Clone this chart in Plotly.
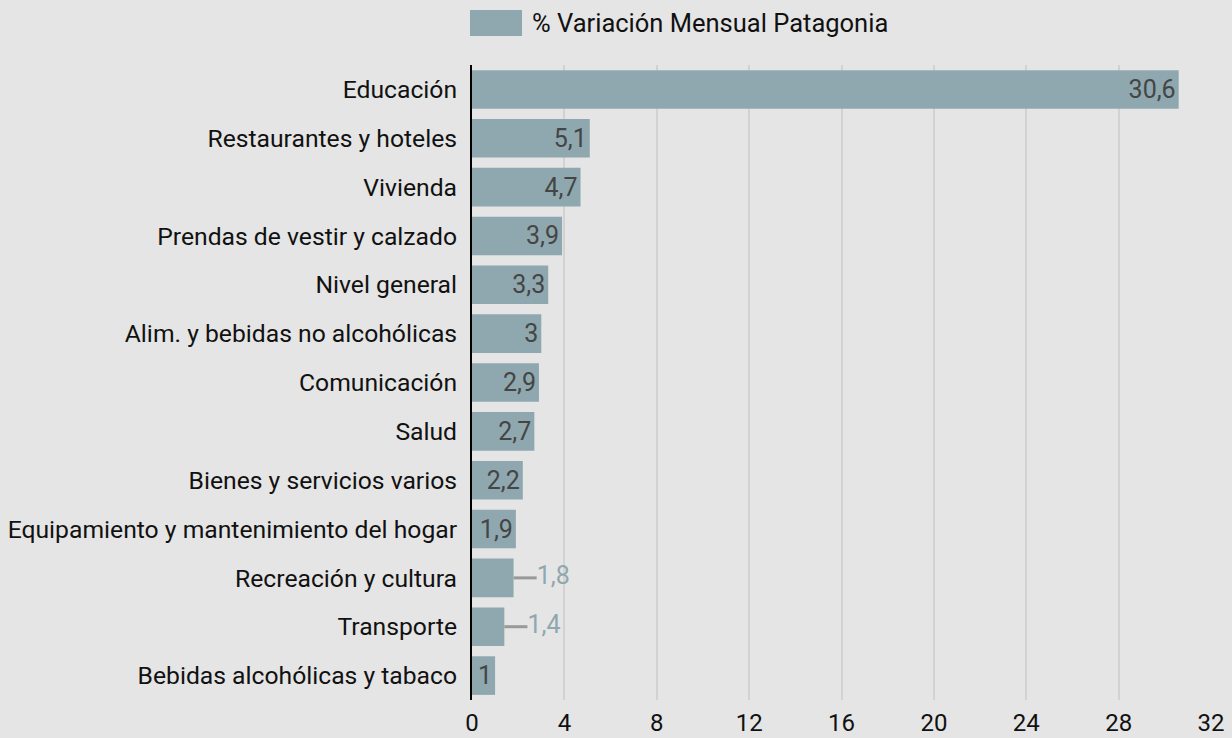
import plotly.graph_objects as go

categories = [
    "Educación", "Restaurantes y hoteles", "Vivienda", "Prendas de vestir y calzado",
    "Nivel general", "Alim. y bebidas no alcohólicas", "Comunicación", "Salud",
    "Bienes y servicios varios", "Equipamiento y mantenimiento del hogar",
    "Recreación y cultura", "Transporte", "Bebidas alcohólicas y tabaco",
]
values = [30.6, 5.1, 4.7, 3.9, 3.3, 3.0, 2.9, 2.7, 2.2, 1.9, 1.8, 1.4, 1.0]
outside = [False] * 10 + [True, True, False]
series_name = "% Variación Mensual Patagonia"
x_ticks = [0, 4, 8, 12, 16, 20, 24, 28, 32]

BAR = "#8fa8af"
BG = "#e5e5e5"
FONT = "Roboto"
TXT = "#111111"


def fmt(v):
    return f"{v:g}".replace(".", ",")


inside_text = ["" if o else fmt(v) for v, o in zip(values, outside)]

fig = go.Figure()
fig.add_trace(go.Bar(
    x=values, y=categories, orientation="h", name=series_name,
    marker=dict(color=BAR, line=dict(width=0)),
    text=inside_text, textposition="inside", insidetextanchor="end",
    textfont=dict(family=FONT, size=25, color="#454545"),
    cliponaxis=False, width=0.79, showlegend=False,
))

# leader lines + outside labels for small bars
for c, v, o in zip(categories, values, outside):
    if not o:
        continue
    fig.add_trace(go.Scatter(
        x=[v, v + 1], y=[c, c], mode="lines",
        line=dict(color="#999999", width=3), showlegend=False, hoverinfo="skip",
    ))
    fig.add_trace(go.Scatter(
        x=[v + 1], y=[c], mode="text", text=[fmt(v)], textposition="middle right",
        textfont=dict(family=FONT, size=25, color=BAR), showlegend=False,
        hoverinfo="skip", cliponaxis=False,
    ))

# legend (drawn to match the wide swatch of the reference)
fig.add_shape(type="rect", xref="paper", yref="paper",
              x0=-0.0027, x1=0.0677, y0=1.0457, y1=1.0866,
              fillcolor=BAR, line=dict(width=0))
fig.add_annotation(xref="paper", yref="paper", x=0.0785, y=1.0661,
                   xanchor="left", yanchor="middle", showarrow=False,
                   text=series_name, font=dict(family=FONT, size=25.5, color=TXT))

fig.update_layout(
    width=1232, height=738,
    paper_bgcolor=BG, plot_bgcolor=BG,
    font=dict(family=FONT, size=24.5, color=TXT),
    margin=dict(l=472, r=21, t=65, b=38, pad=0),
    showlegend=False,
    bargap=0.21,
)
fig.update_xaxes(
    range=[0, 32], tickvals=x_ticks, ticktext=[str(t) for t in x_ticks],
    showgrid=True, gridcolor="#d2d2d2", gridwidth=2, zeroline=False,
    showline=False, ticks="", tickfont=dict(family=FONT, size=24, color=TXT),
    ticklabelstandoff=6, fixedrange=True, automargin=False,
)
fig.update_yaxes(
    categoryorder="array", categoryarray=categories, autorange="reversed",
    showgrid=False, showline=True, linecolor="#000000", linewidth=2,
    ticks="", ticklabelstandoff=8, tickfont=dict(family=FONT, size=24.7, color=TXT),
    zeroline=False, automargin=False, fixedrange=True,
)

fig.write_html("out.html", config={"displayModeBar": False},
               post_script="document.body.style.margin='0';")
